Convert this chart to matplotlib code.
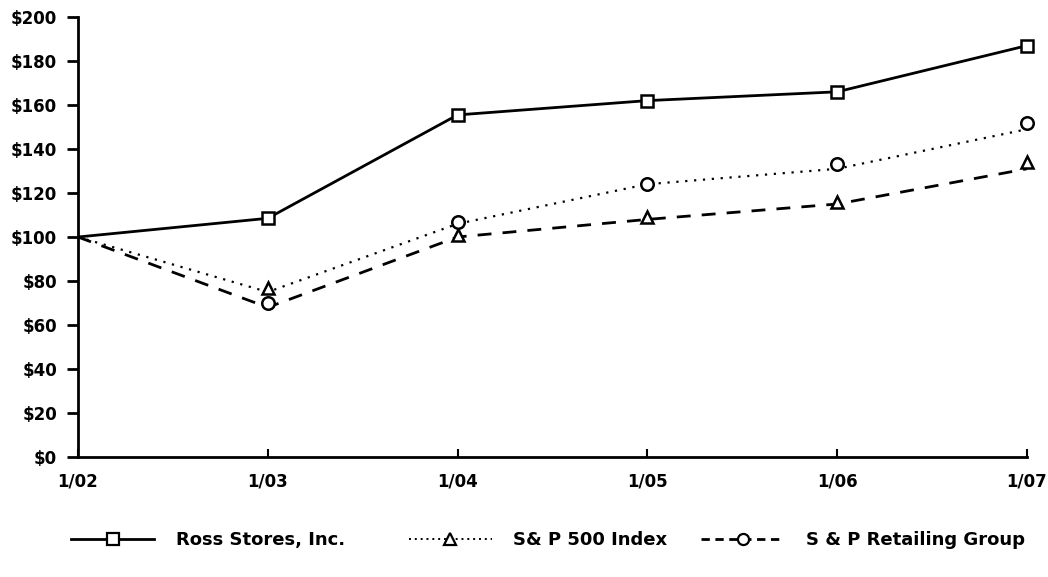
import numpy as np
import matplotlib.pyplot as plt

# data
years = ["1/02", "1/03", "1/04", "1/05", "1/06", "1/07"]
ross = [100, 108.5, 155.5, 162, 166, 187]
# line traces and marker positions do not coincide in the source chart
sp500_line = [100, 75, 106, 124, 131, 149]
sp500_marks = [np.nan, 77, 101, 109, 116, 134]
retail_line = [100, 68, 100, 108, 115, 131]
retail_marks = [np.nan, 70, 107, 124, 133, 152]
yticks = np.arange(0, 201, 20)

plt.rcParams['font.family'] = ['DejaVu Sans']
plt.rcParams['font.weight'] = 'bold'

fig = plt.figure(figsize=(10.48, 5.77), dpi=100)
ax = fig.add_axes([0.0744, 0.208, 0.9055, 0.7625])
x = np.arange(len(years))

mk = dict(markersize=9, markerfacecolor='white', markeredgecolor='black', markeredgewidth=1.8)

ax.plot(x, ross, color='black', lw=2, zorder=3)
ax.plot(x[1:], ross[1:], ls='none', marker='s', zorder=4, clip_on=False, **mk)

ax.plot(x, sp500_line, color='black', lw=1.6, ls=(0, (1, 3)), zorder=2)
ax.plot(x, sp500_marks, ls='none', marker='^', zorder=4, clip_on=False, **mk)

ax.plot(x, retail_line, color='black', lw=2, ls=(0, (5, 4)), zorder=2)
ax.plot(x, retail_marks, ls='none', marker='o', zorder=4, clip_on=False, **mk)

ax.set_xlim(0, len(years) - 1)
ax.set_ylim(0, 200)
ax.set_xticks(x)
ax.set_xticklabels(years)
ax.set_yticks(yticks)
ax.set_yticklabels([f"${v}" for v in yticks])

for s in ['top', 'right']:
    ax.spines[s].set_visible(False)
for s in ['left', 'bottom']:
    ax.spines[s].set_linewidth(2)
ax.tick_params(axis='y', direction='out', length=8, width=2, pad=7, labelsize=12)
ax.tick_params(axis='x', direction='in', length=6, width=1.5, pad=11, labelsize=12)

# legend: three single-entry legends placed along the bottom
hmk = dict(color='black', markersize=8, markerfacecolor='white',
           markeredgecolor='black', markeredgewidth=1.6)
entries = [
    (plt.Line2D([], [], lw=2, marker='s', **hmk), "Ross Stores, Inc.", 0.068),
    (plt.Line2D([], [], lw=1.4, ls=(0, (1, 2)), marker='^', **hmk), "S& P 500 Index", 0.390),
    (plt.Line2D([], [], lw=2, ls=(0, (3, 2)), marker='o', **hmk), "S & P Retailing Group", 0.669),
]
for h, lab, xpos in entries:
    lg = fig.legend([h], [lab], loc='center left', bbox_to_anchor=(xpos, 0.064),
                    frameon=False, handlelength=4.6, handletextpad=1.2, borderpad=0,
                    borderaxespad=0, numpoints=1, prop={'size': 13, 'weight': 'bold'})

fig.savefig("out.png", dpi=100)
